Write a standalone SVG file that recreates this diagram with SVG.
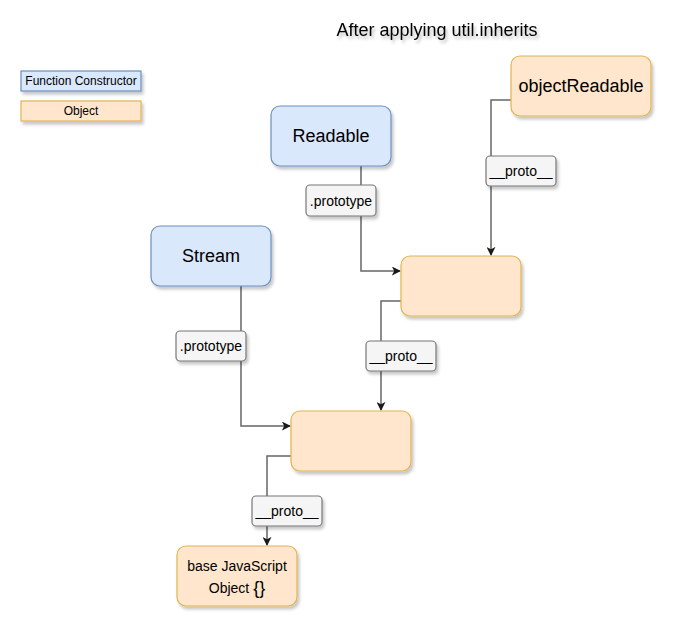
<svg xmlns="http://www.w3.org/2000/svg" width="677" height="632" viewBox="0 0 677 632">
<defs>
<filter id="sh" x="-20%" y="-20%" width="150%" height="160%">
<feDropShadow dx="2" dy="3" stdDeviation="1.6" flood-color="#000" flood-opacity="0.22"/>
</filter>
<filter id="tsh" x="-10%" y="-50%" width="120%" height="220%">
<feDropShadow dx="2" dy="3" stdDeviation="1.5" flood-color="#000" flood-opacity="0.25"/>
</filter>
<marker id="arr" viewBox="0 0 10 10" refX="9" refY="5" markerWidth="9" markerHeight="9" markerUnits="userSpaceOnUse" orient="auto">
<path d="M0,0 L10,5 L0,10 L2.5,5 Z" fill="#1a1a1a"/>
</marker>
<style>
text{font-family:"Liberation Sans",Arial,Helvetica,sans-serif;fill:#000;text-anchor:middle;dominant-baseline:central}
.fc{fill:#dae8fc;stroke:#6c8ebf;stroke-width:1.2}
.ob{fill:#ffe6cc;stroke:#e2b44d;stroke-width:1.2}
.lb{fill:#f5f5f5;stroke:#777;stroke-width:1.2}
.edge{fill:none;stroke:#666;stroke-width:1.5}
.n{font-size:18px}
.l{font-size:14px}
.s{font-size:12px}
</style>
</defs>
<rect width="677" height="632" fill="#fff"/>
<g id="title"><text x="437" y="30" font-size="18" filter="url(#tsh)">After applying util.inherits</text></g>
<g id="legend-fc"><rect class="fc" x="21" y="71" width="120" height="20" filter="url(#sh)"/><text class="s" x="81" y="81">Function Constructor</text></g>
<g id="legend-obj"><rect class="ob" x="21" y="101" width="120" height="20" filter="url(#sh)"/><text class="s" x="81" y="111">Object</text></g>
<g id="connectors">
<path class="edge" d="M361,166 V271 H400" marker-end="url(#arr)"/>
<path class="edge" d="M511,100 H491 V255" marker-end="url(#arr)"/>
<path class="edge" d="M241,286 V426 H290" marker-end="url(#arr)"/>
<path class="edge" d="M401,301 H381 V410" marker-end="url(#arr)"/>
<path class="edge" d="M291,456 H267 V545" marker-end="url(#arr)"/>
<g id="lbl-readable"><rect class="lb" x="306" y="185" width="70" height="31" rx="4" filter="url(#sh)"/><text class="l" x="341" y="201">.prototype</text></g>
<g id="lbl-objreadable"><rect class="lb" x="486" y="156" width="70" height="30" rx="4" filter="url(#sh)"/><text class="l" x="521" y="171">__proto__</text></g>
<g id="lbl-stream"><rect class="lb" x="176" y="331" width="70" height="30" rx="4" filter="url(#sh)"/><text class="l" x="211" y="346">.prototype</text></g>
<g id="lbl-obj1"><rect class="lb" x="366" y="341" width="70" height="30" rx="4" filter="url(#sh)"/><text class="l" x="401" y="356">__proto__</text></g>
<g id="lbl-obj2"><rect class="lb" x="252" y="496" width="70" height="30" rx="4" filter="url(#sh)"/><text class="l" x="287" y="511">__proto__</text></g>
</g>
<g id="readable"><rect class="fc" x="271" y="106" width="120" height="60" rx="9" filter="url(#sh)"/><text class="n" x="331" y="136">Readable</text></g>
<g id="objectReadable"><rect class="ob" x="511" y="56" width="140" height="60" rx="9" filter="url(#sh)"/><text class="n" x="581" y="86">objectReadable</text></g>
<g id="stream"><rect class="fc" x="151" y="226" width="120" height="60" rx="9" filter="url(#sh)"/><text class="n" x="211" y="256">Stream</text></g>
<g id="obj1"><rect class="ob" x="401" y="256" width="120" height="60" rx="9" filter="url(#sh)"/></g>
<g id="obj2"><rect class="ob" x="291" y="411" width="120" height="60" rx="9" filter="url(#sh)"/></g>
<g id="base"><rect class="ob" x="177" y="546" width="120" height="60" rx="9" filter="url(#sh)"/><text class="l" x="237" y="566">base JavaScript</text><text class="l" x="237" y="588">Object <tspan font-size="18">{}</tspan></text></g>
</svg>
